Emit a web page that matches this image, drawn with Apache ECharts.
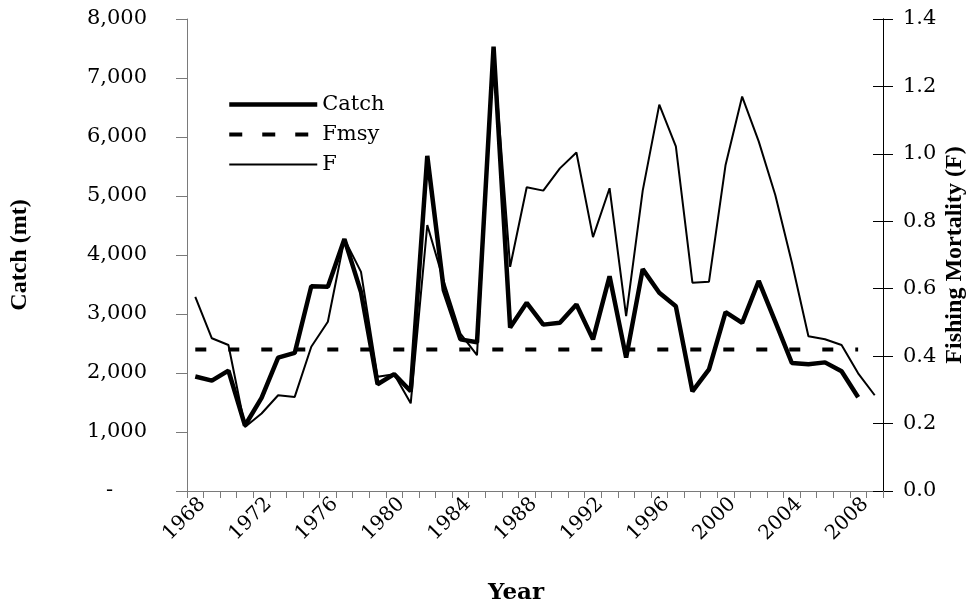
<!DOCTYPE html>
<html>
<head>
<meta charset="utf-8">
<script src="https://cdn.jsdelivr.net/npm/echarts@6/dist/echarts.min.js"></script>
<style>
  html, body { margin: 0; padding: 0; background: #fff; }
  #chart { width: 979px; height: 606px; }
</style>
</head>
<body>
<div id="chart"></div>
<script>
// Fishing years
const years = ['1968','1969','1970','1971','1972','1973','1974','1975','1976','1977',
  '1978','1979','1980','1981','1982','1983','1984','1985','1986','1987',
  '1988','1989','1990','1991','1992','1993','1994','1995','1996','1997',
  '1998','1999','2000','2001','2002','2003','2004','2005','2006','2007',
  '2008','2009'];

// Catch in metric tonnes, 1968-2008
const catchMt = [1940, 1870, 2040, 1110, 1580, 2260, 2340, 3470, 3460, 4270,
  3370, 1810, 1980, 1690, 5680, 3400, 2570, 2520, 7530, 2770,
  3190, 2820, 2850, 3160, 2570, 3640, 2260, 3760, 3360, 3130,
  1690, 2060, 3030, 2850, 3560, 2870, 2170, 2150, 2180, 2030,
  1590];

// Fishing mortality F, 1968-2009
const fishingF = [0.576, 0.453, 0.433, 0.19, 0.23, 0.284, 0.279, 0.428, 0.502, 0.747,
  0.65, 0.339, 0.346, 0.26, 0.789, 0.621, 0.467, 0.403, 1.31, 0.665,
  0.901, 0.891, 0.957, 1.004, 0.753, 0.898, 0.519, 0.891, 1.146, 1.022,
  0.618, 0.621, 0.967, 1.17, 1.037, 0.878, 0.678, 0.459, 0.45, 0.433,
  0.349, 0.284];

// Reference point Fmsy, 1968-2008
const fmsy = [0.42, 0.42, 0.42, 0.42, 0.42, 0.42, 0.42, 0.42, 0.42, 0.42,
  0.42, 0.42, 0.42, 0.42, 0.42, 0.42, 0.42, 0.42, 0.42, 0.42,
  0.42, 0.42, 0.42, 0.42, 0.42, 0.42, 0.42, 0.42, 0.42, 0.42,
  0.42, 0.42, 0.42, 0.42, 0.42, 0.42, 0.42, 0.42, 0.42, 0.42,
  0.42];

const wideSerif = 'DejaVu Serif';
const titleSerif = 'Liberation Serif';
const grey = '#7a7a7a';

const catchStyle = { color: '#000', width: 4.5 };
const fmsyStyle = { color: '#000', width: 4, type: [11, 22] };
const fStyle = { color: '#000', width: 2 };

const chart = echarts.init(document.getElementById('chart'), null, { renderer: 'canvas' });

chart.setOption({
  animation: false,
  backgroundColor: '#fff',
  grid: { left: 187, right: 96, top: 19, bottom: 115, containLabel: false, outerBoundsMode: 'none' },
  legend: {
    orient: 'vertical',
    left: 227,
    top: 94,
    padding: 0,
    itemWidth: 88,
    itemHeight: 14,
    itemGap: 9,
    selectedMode: false,
    data: [
      { name: 'Catch', lineStyle: catchStyle },
      { name: 'Fmsy', lineStyle: { color: '#000', width: 4, type: [13, 20] } },
      { name: 'F', lineStyle: fStyle }
    ],
    // line-only keys: hide the marker drawn in the middle of each key
    itemStyle: { opacity: 0 },
    textStyle: { fontFamily: wideSerif, fontSize: 21, color: '#000' }
  },
  xAxis: {
    type: 'category',
    data: years,
    boundaryGap: true,
    name: 'Year',
    nameLocation: 'middle',
    nameGap: 91,
    nameMoveOverlap: false,
    nameTextStyle: { fontFamily: wideSerif, fontWeight: 'bold', fontSize: 23, color: '#000', padding: [0, 38, 0, 0] },
    axisLine: { lineStyle: { color: grey, width: 1 } },
    axisTick: { show: true, interval: 0, length: 7, lineStyle: { color: grey } },
    axisLabel: { interval: 3, rotate: 45, margin: 3, verticalAlign: 'top', fontFamily: wideSerif, fontSize: 20, color: '#000' },
    splitLine: { show: false }
  },
  yAxis: [
    {
      type: 'value',
      position: 'left',
      min: 0, max: 8000, interval: 1000,
      name: 'Catch (mt)',
      nameLocation: 'middle',
      nameGap: 155,
      nameRotate: 90,
      nameMoveOverlap: false,
      nameTextStyle: { fontFamily: titleSerif, fontWeight: 'bold', fontSize: 24, color: '#000' },
      axisLine: { show: true, lineStyle: { color: grey, width: 1 } },
      axisTick: { show: true, length: 11, lineStyle: { color: grey } },
      axisLabel: {
        margin: 40,
        fontFamily: wideSerif, fontSize: 21, color: '#000',
        formatter: v => v === 0 ? '{z|-}' : v.toLocaleString('en-US'),
        rich: { z: { fontFamily: wideSerif, fontSize: 21, color: '#000', padding: [0, 34, 0, 0] } }
      },
      splitLine: { show: false }
    },
    {
      type: 'value',
      position: 'right',
      min: 0, max: 1.4, interval: 0.2,
      name: 'Fishing Mortality (F)',
      nameLocation: 'middle',
      nameGap: 60,
      nameRotate: 90,
      nameMoveOverlap: false,
      nameTextStyle: { fontFamily: titleSerif, fontWeight: 'bold', fontSize: 24, color: '#000' },
      axisLine: { show: true, lineStyle: { color: '#000', width: 1 } },
      axisTick: { show: true, length: 10, lineStyle: { color: '#000' } },
      axisLabel: {
        margin: 20,
        fontFamily: wideSerif, fontSize: 21, color: '#000',
        formatter: v => v.toFixed(1)
      },
      splitLine: { show: false }
    },
    {
      // inner half of the cross ticks on the right axis
      type: 'value',
      position: 'right',
      min: 0, max: 1.4, interval: 0.2,
      axisLine: { show: true, lineStyle: { color: '#000', width: 1 } },
      axisTick: { show: true, inside: true, length: 10, lineStyle: { color: '#000' } },
      axisLabel: { show: false },
      splitLine: { show: false }
    }
  ],
  series: [
    {
      name: 'Catch',
      type: 'line',
      yAxisIndex: 0,
      data: catchMt,
      symbol: 'none',
      color: '#000',
      lineStyle: catchStyle,
      z: 3
    },
    {
      name: 'Fmsy',
      type: 'line',
      yAxisIndex: 1,
      data: fmsy,
      symbol: 'none',
      color: '#000',
      lineStyle: fmsyStyle,
      z: 2
    },
    {
      name: 'F',
      type: 'line',
      yAxisIndex: 1,
      data: fishingF,
      symbol: 'none',
      color: '#000',
      lineStyle: fStyle,
      z: 4
    }
  ]
});
</script>
</body>
</html>
